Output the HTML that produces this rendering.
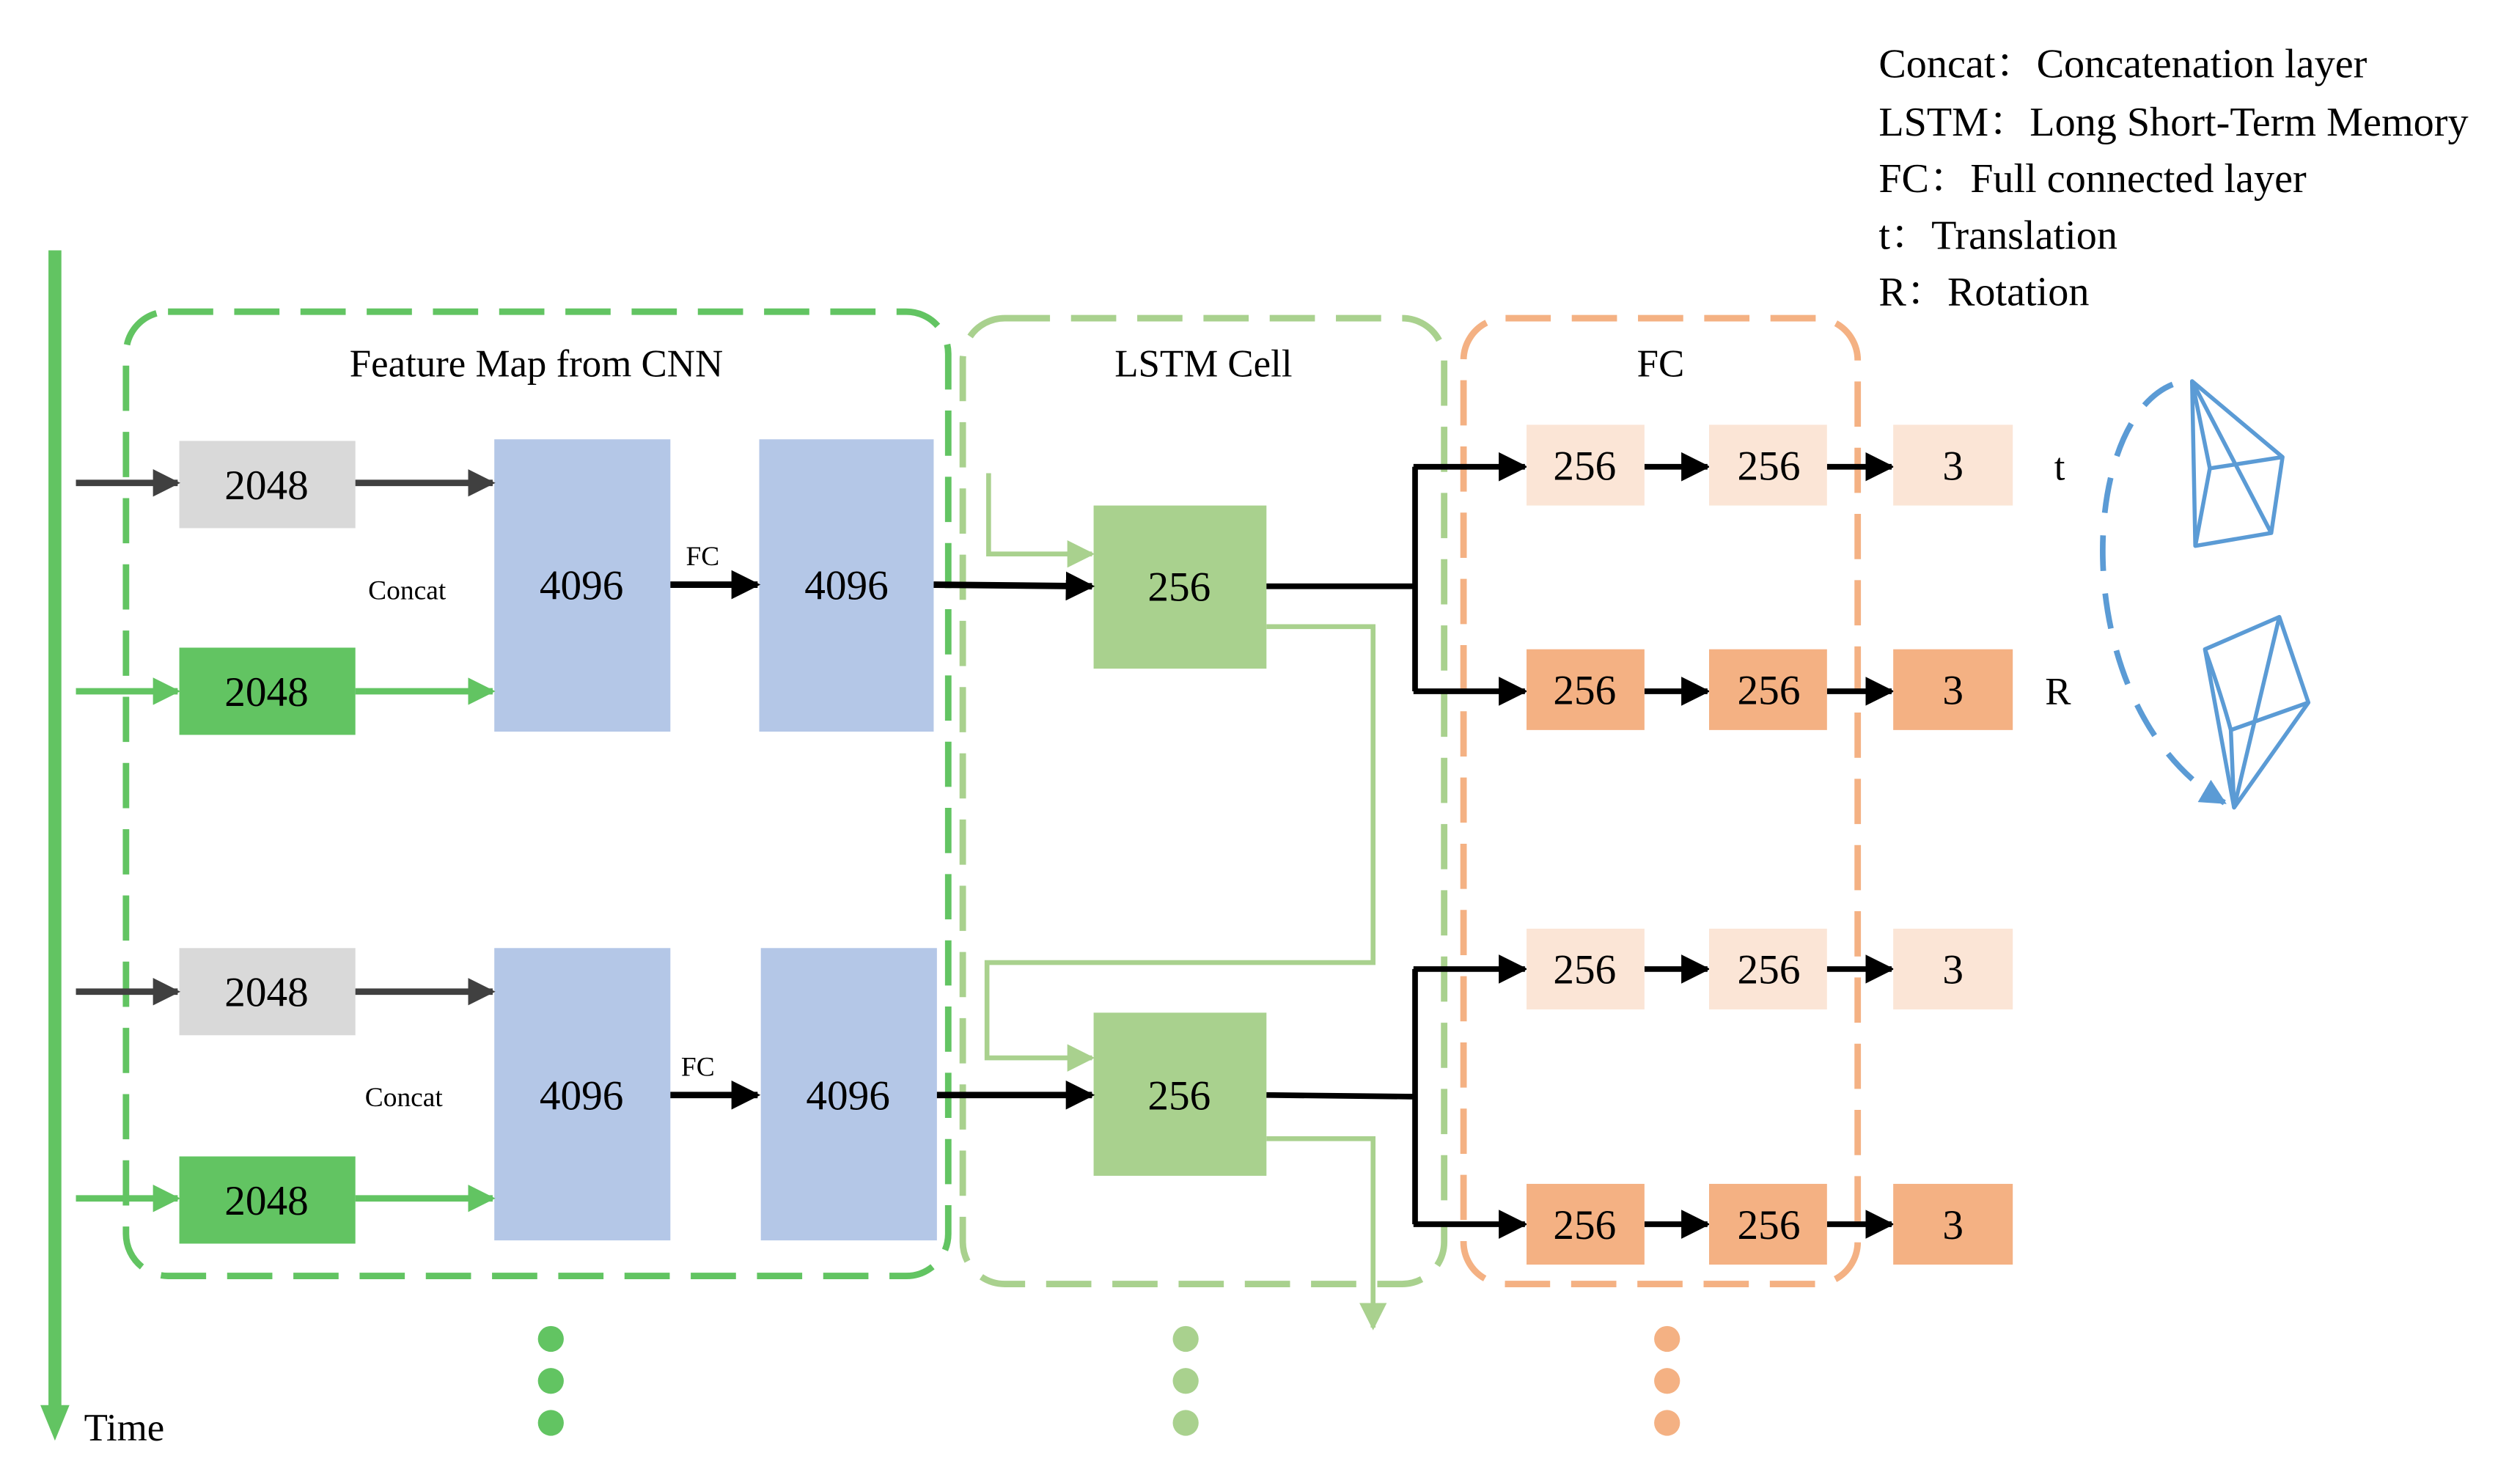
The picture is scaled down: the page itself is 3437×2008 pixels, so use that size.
<!DOCTYPE html>
<html><head><meta charset="utf-8"><style>
html,body{margin:0;padding:0;background:#fff}
svg{display:block}
text{font-family:"Liberation Serif","Noto Serif CJK SC",serif;fill:#000}
</style></head><body>
<svg width="3437" height="2008" viewBox="0 0 1560 911.4" preserveAspectRatio="none" xmlns="http://www.w3.org/2000/svg">
<defs>
<marker id="ag" viewBox="0 0 10 10" markerWidth="17" markerHeight="17" refX="9" refY="5" orient="auto" markerUnits="userSpaceOnUse"><path d="M0,0 L10,5 L0,10z" fill="#404040"/></marker>
<marker id="agr" viewBox="0 0 10 10" markerWidth="17" markerHeight="17" refX="9" refY="5" orient="auto" markerUnits="userSpaceOnUse"><path d="M0,0 L10,5 L0,10z" fill="#62c462"/></marker>
<marker id="alg" viewBox="0 0 10 10" markerWidth="17" markerHeight="17" refX="9" refY="5" orient="auto" markerUnits="userSpaceOnUse"><path d="M0,0 L10,5 L0,10z" fill="#a9d18e"/></marker>
<marker id="abk" viewBox="0 0 10 10" markerWidth="18" markerHeight="18" refX="9" refY="5" orient="auto" markerUnits="userSpaceOnUse"><path d="M0,0 L10,5 L0,10z" fill="#000"/></marker>
<marker id="abl" viewBox="0 0 10 10" markerWidth="16" markerHeight="16" refX="9" refY="5" orient="auto" markerUnits="userSpaceOnUse"><path d="M0,0 L10,5 L0,10z" fill="#5b9bd5"/></marker>
</defs>

<line x1="34" y1="155" x2="34" y2="872" stroke="#62c462" stroke-width="8"/>
<path d="M25,870 L43,870 L34,892z" fill="#62c462"/>
<text x="52" y="892" font-size="24">Time</text>

<g font-size="25.5">
<text x="1163" y="48">Concat：Concatenation layer</text>
<text x="1163" y="84">LSTM：Long Short-Term Memory</text>
<text x="1163" y="119">FC：Full connected layer</text>
<text x="1163" y="154">t：Translation</text>
<text x="1163" y="189">R：Rotation</text>
</g>

<rect x="78" y="193" width="509" height="597" rx="26" fill="none" stroke="#62c462" stroke-width="4" stroke-dasharray="28,13"/>
<rect x="596" y="197" width="298" height="598" rx="26" fill="none" stroke="#a9d18e" stroke-width="4" stroke-dasharray="28,13"/>
<rect x="906" y="197" width="244" height="598" rx="26" fill="none" stroke="#f4b183" stroke-width="4" stroke-dasharray="28,13"/>
<g font-size="24" text-anchor="middle">
<text x="332" y="233">Feature Map from CNN</text>
<text x="745" y="233">LSTM Cell</text>
<text x="1028" y="233">FC</text>
</g>

<g font-size="26" text-anchor="middle">
<rect x="111" y="273" width="109" height="54" fill="#d9d9d9"/><text x="165" y="309">2048</text>
<rect x="111" y="401" width="109" height="54" fill="#62c462"/><text x="165" y="437">2048</text>
<rect x="306" y="272" width="109" height="181" fill="#b4c7e7"/><text x="360" y="371">4096</text>
<rect x="470" y="272" width="108" height="181" fill="#b4c7e7"/><text x="524" y="371">4096</text>
<rect x="111" y="587" width="109" height="54" fill="#d9d9d9"/><text x="165" y="623">2048</text>
<rect x="111" y="716" width="109" height="54" fill="#62c462"/><text x="165" y="752">2048</text>
<rect x="306" y="587" width="109" height="181" fill="#b4c7e7"/><text x="360" y="687">4096</text>
<rect x="471" y="587" width="109" height="181" fill="#b4c7e7"/><text x="525" y="687">4096</text>
<rect x="677" y="313" width="107" height="101" fill="#a9d18e"/><text x="730" y="372">256</text>
<rect x="677" y="627" width="107" height="101" fill="#a9d18e"/><text x="730" y="687">256</text>
</g>
<g font-size="17" text-anchor="middle">
<text x="252" y="371">Concat</text>
<text x="250" y="685">Concat</text>
<text x="435" y="350">FC</text>
<text x="432" y="666">FC</text>
</g>

<g stroke-width="4" fill="none">
<line x1="47" y1="299" x2="110" y2="299" stroke="#404040" marker-end="url(#ag)"/>
<line x1="220" y1="299" x2="305" y2="299" stroke="#404040" marker-end="url(#ag)"/>
<line x1="47" y1="428" x2="110" y2="428" stroke="#62c462" marker-end="url(#agr)"/>
<line x1="220" y1="428" x2="305" y2="428" stroke="#62c462" marker-end="url(#agr)"/>
<line x1="47" y1="614" x2="110" y2="614" stroke="#404040" marker-end="url(#ag)"/>
<line x1="220" y1="614" x2="305" y2="614" stroke="#404040" marker-end="url(#ag)"/>
<line x1="47" y1="742" x2="110" y2="742" stroke="#62c462" marker-end="url(#agr)"/>
<line x1="220" y1="742" x2="305" y2="742" stroke="#62c462" marker-end="url(#agr)"/>
<line x1="415" y1="362" x2="469" y2="362" stroke="#000" marker-end="url(#abk)"/>
<line x1="578" y1="362" x2="676" y2="363" stroke="#000" marker-end="url(#abk)"/>
<line x1="415" y1="678" x2="469" y2="678" stroke="#000" marker-end="url(#abk)"/>
<line x1="580" y1="678" x2="676" y2="678" stroke="#000" marker-end="url(#abk)"/>
</g>

<g stroke="#a9d18e" stroke-width="3" fill="none">
<polyline points="612,293 612,343 676,343" marker-end="url(#alg)"/>
<polyline points="784,388 850,388 850,596 611,596 611,655 676,655" marker-end="url(#alg)"/>
<polyline points="784,705 850,705 850,822" marker-end="url(#alg)"/>
</g>

<g stroke="#000" stroke-width="3.5" fill="none">
<polyline points="784,363 876,363"/>
<polyline points="876,289 876,428"/>
<line x1="875" y1="289" x2="944" y2="289" marker-end="url(#abk)"/>
<line x1="875" y1="428" x2="944" y2="428" marker-end="url(#abk)"/>
<polyline points="784,678 876,679"/>
<polyline points="876,600 876,758"/>
<line x1="875" y1="600" x2="944" y2="600" marker-end="url(#abk)"/>
<line x1="875" y1="758" x2="944" y2="758" marker-end="url(#abk)"/>
<line x1="1018" y1="289" x2="1057" y2="289" marker-end="url(#abk)"/>
<line x1="1131" y1="289" x2="1171" y2="289" marker-end="url(#abk)"/>
<line x1="1018" y1="428" x2="1057" y2="428" marker-end="url(#abk)"/>
<line x1="1131" y1="428" x2="1171" y2="428" marker-end="url(#abk)"/>
<line x1="1018" y1="600" x2="1057" y2="600" marker-end="url(#abk)"/>
<line x1="1131" y1="600" x2="1171" y2="600" marker-end="url(#abk)"/>
<line x1="1018" y1="758" x2="1057" y2="758" marker-end="url(#abk)"/>
<line x1="1131" y1="758" x2="1171" y2="758" marker-end="url(#abk)"/>
</g>

<g font-size="26" text-anchor="middle">
<rect x="945" y="263" width="73" height="50" fill="#fbe5d6"/><text x="981" y="297">256</text>
<rect x="1058" y="263" width="73" height="50" fill="#fbe5d6"/><text x="1095" y="297">256</text>
<rect x="1172" y="263" width="74" height="50" fill="#fbe5d6"/><text x="1209" y="297">3</text>
<rect x="945" y="402" width="73" height="50" fill="#f4b183"/><text x="981" y="436">256</text>
<rect x="1058" y="402" width="73" height="50" fill="#f4b183"/><text x="1095" y="436">256</text>
<rect x="1172" y="402" width="74" height="50" fill="#f4b183"/><text x="1209" y="436">3</text>
<rect x="945" y="575" width="73" height="50" fill="#fbe5d6"/><text x="981" y="609">256</text>
<rect x="1058" y="575" width="73" height="50" fill="#fbe5d6"/><text x="1095" y="609">256</text>
<rect x="1172" y="575" width="74" height="50" fill="#fbe5d6"/><text x="1209" y="609">3</text>
<rect x="945" y="733" width="73" height="50" fill="#f4b183"/><text x="981" y="767">256</text>
<rect x="1058" y="733" width="73" height="50" fill="#f4b183"/><text x="1095" y="767">256</text>
<rect x="1172" y="733" width="74" height="50" fill="#f4b183"/><text x="1209" y="767">3</text>
<text x="1275" y="297" font-size="24">t</text>
<text x="1274" y="436" font-size="24">R</text>
</g>

<g>
<circle cx="341" cy="829" r="8" fill="#62c462"/><circle cx="341" cy="855" r="8" fill="#62c462"/><circle cx="341" cy="881" r="8" fill="#62c462"/>
<circle cx="734" cy="829" r="8" fill="#a9d18e"/><circle cx="734" cy="855" r="8" fill="#a9d18e"/><circle cx="734" cy="881" r="8" fill="#a9d18e"/>
<circle cx="1032" cy="829" r="8" fill="#f4b183"/><circle cx="1032" cy="855" r="8" fill="#f4b183"/><circle cx="1032" cy="881" r="8" fill="#f4b183"/>
</g>

<g stroke="#5b9bd5" stroke-width="2.5" fill="none" stroke-linejoin="round">
<path d="M1345,238 C1285,262 1280,440 1377,497" stroke-width="3.5" stroke-dasharray="22,14" marker-end="url(#abl)"/>
<path d="M1357,236 L1413,283 L1406,330 L1359,338 Z"/>
<path d="M1357,236 L1368,290 L1359,338"/>
<path d="M1368,290 L1413,283"/>
<path d="M1357,236 L1406,330"/>
<path d="M1365,402 L1411,382 L1429,435 L1383,500 Z"/>
<path d="M1365,402 Q1375,430 1381,452 L1383,500"/>
<path d="M1381,452 L1429,435"/>
<path d="M1411,382 L1383,500"/>
</g>
</svg>
</body></html>
